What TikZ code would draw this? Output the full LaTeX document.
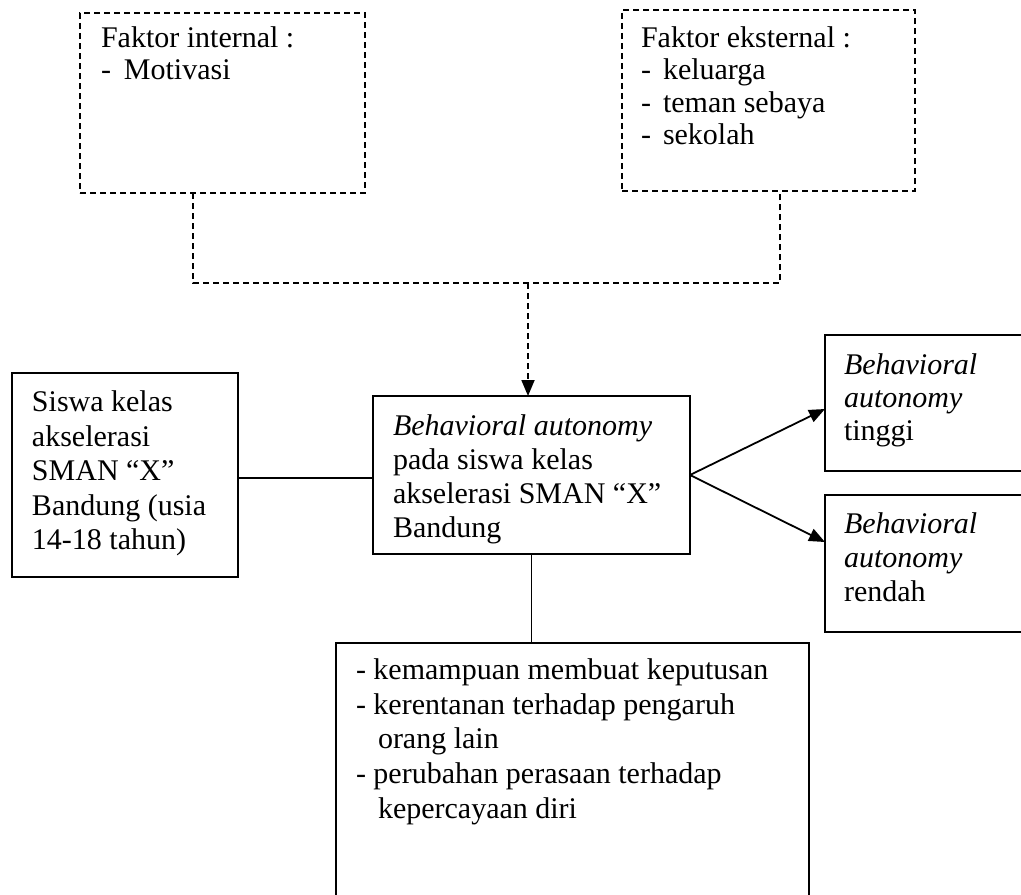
\documentclass[tikz,border=0pt]{standalone}
\usepackage{fontspec}
\setmainfont{Liberation Serif}
\usetikzlibrary{fit,arrows.meta}
\begin{document}
\begin{tikzpicture}[x=0.5pt,y=-0.5pt,
  box/.style={draw,line width=0.9pt,inner sep=0pt,outer sep=0pt},
  dbox/.style={box,dash pattern=on 3pt off 2pt},
  txt/.style={anchor=base west,inner sep=0pt,outer sep=0pt,font=\fontsize{15pt}{17.25pt}\selectfont},
  conn/.style={line width=0.9pt},
  dconn/.style={conn,dash pattern=on 3pt off 2pt},
  tip/.style={-{Triangle[length=8pt,width=6.5pt]}}]
\useasboundingbox (0,0) rectangle (1021,894);
\clip (0,0) rectangle (1021,894);

% boxes
\node[dbox,fit={(80,13) (365,193)}] (intbox) {};
\node[dbox,fit={(622,10) (915,191)}] (extbox) {};
\node[box,fit={(12,373) (238,577)}] (lbox) {};
\node[box,fit={(373,396) (690,554)}] (cbox) {};
\node[box,fit={(825,335) (1060,471)}] (trbox) {};
\node[box,fit={(825,495) (1060,632)}] (brbox) {};
\node[box,fit={(336,643) (809,930)}] (bbox) {};

% texts
\node[txt] (tint) at (101,47) {\parbox[t]{250pt}{\baselineskip=16.25pt
Faktor internal :\\
\makebox[11.5pt][l]{-}Motivasi}};
\node[txt] (text) at (641,47) {\parbox[t]{250pt}{\baselineskip=16.25pt
Faktor eksternal :\\
\makebox[11pt][l]{-}keluarga\\
\makebox[11pt][l]{-}teman sebaya\\
\makebox[11pt][l]{-}sekolah}};
\node[txt] (tl) at (32,411.5) {\parbox[t]{250pt}{\baselineskip=17.3pt
Siswa kelas\\
akselerasi\\
SMAN ``X''\\
Bandung (usia\\
14-18 tahun)}};
\node[txt] (tc) at (393,435) {\parbox[t]{250pt}{\baselineskip=17.15pt
\textit{Behavioral autonomy}\\
pada siswa kelas\\
akselerasi SMAN ``X''\\
Bandung}};
\node[txt] (ttr) at (844,374) {\parbox[t]{150pt}{\baselineskip=16.5pt
\textit{Behavioral}\\
\textit{autonomy}\\
tinggi}};
\node[txt] (tbr) at (844,533) {\parbox[t]{150pt}{\baselineskip=17pt
\textit{Behavioral}\\
\textit{autonomy}\\
rendah}};
\node[txt] (tb) at (356,679.5) {\parbox[t]{250pt}{\baselineskip=17.35pt
- kemampuan membuat keputusan\\
- kerentanan terhadap pengaruh\\
\hspace*{11pt}orang lain\\
- perubahan perasaan terhadap\\
\hspace*{11pt}kepercayaan diri}};

% connectors
\coordinate (j1) at (193,283);
\coordinate (j2) at (780,283);
\coordinate (jm) at (528,283);
\draw[dconn] (intbox.south -| j1) -- (j1) -- (j2) -- (extbox.south -| j2);
\draw[dconn,tip] (jm) -- (cbox.north -| jm);
\draw[conn] (lbox.east |- 0,478) -- (cbox.west |- 0,478);
\draw[conn,tip] (cbox.east) -- (trbox.west |- 0,409);
\draw[conn,tip] (cbox.east) -- (brbox.west |- 0,542);
\draw[conn] (cbox.south) -- (bbox.north -| cbox.south);
\end{tikzpicture}
\end{document}
